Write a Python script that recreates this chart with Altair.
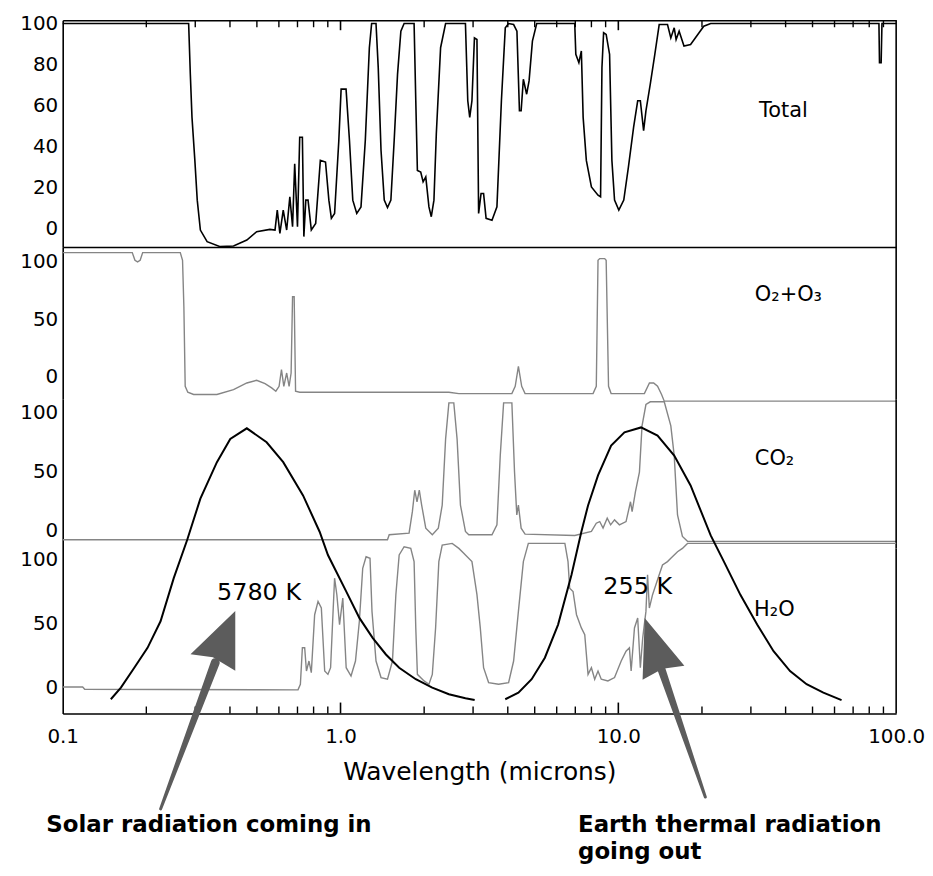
import altair as alt
import pandas as pd

# ---------------- data (wavelength in microns, value in panel axis units)
TOTAL = [(0.1, 100), (0.284, 100), (0.288, 75.2), (0.292, 54.2), (0.299, 33.2), (0.305, 13.8),
         (0.313, -0.8), (0.331, -6.5), (0.369, -8.9), (0.412, -8.6), (0.46, -5.7), (0.499, -1.6),
         (0.557, -0.5), (0.581, -0.8), (0.592, 8.9), (0.605, -2.4), (0.622, 8.9), (0.64, -0.8),
         (0.657, 15.4), (0.672, 0.8), (0.684, 31.6), (0.70, 0.8), (0.713, 44.5), (0.729, 44.5),
         (0.738, -4.0), (0.75, 13.8), (0.764, 13.8), (0.785, -0.8), (0.814, 2.4), (0.846, 33.2),
         (0.883, 32.4), (0.908, 13.8), (0.927, 4.9), (0.952, 7.3), (0.986, 42.9), (1.005, 68),
         (1.047, 68), (1.077, 42.9), (1.107, 13.8), (1.144, 7.3), (1.185, 10.5), (1.228, 42.9),
         (1.27, 88.2), (1.294, 100), (1.342, 100), (1.367, 78.5), (1.399, 38), (1.437, 13.8),
         (1.476, 10.2), (1.518, 13.8), (1.56, 42.9), (1.604, 75.2), (1.649, 96.3), (1.694, 100),
         (1.84, 100), (1.866, 62.3), (1.891, 28.3), (1.944, 27.5), (1.983, 22.7), (2.027, 25.1),
         (2.081, 10.5), (2.122, 5.7), (2.169, 13.8), (2.212, 46.1), (2.292, 88.2), (2.389, 100),
         (2.816, 100), (2.871, 62.3), (2.918, 54.2), (2.972, 62.3), (3.034, 93), (3.098, 92.2),
         (3.141, 7.3), (3.205, 17), (3.273, 17), (3.342, 4.9), (3.509, 4.0), (3.656, 10.5),
         (3.794, 62.3), (3.918, 97.9), (4.027, 100), (4.198, 99.5), (4.315, 96.3), (4.406, 57.4),
         (4.468, 57.4), (4.551, 72.8), (4.677, 65.5), (4.772, 72), (4.906, 91.4), (5.084, 100),
         (6.967, 100), (7.03, 85), (7.21, 80.9), (7.36, 86.6), (7.47, 54.2), (7.67, 33.2),
         (8.0, 20.2), (8.45, 16.2), (8.63, 15.4), (8.73, 78.5), (8.85, 95.5), (9.04, 94.7),
         (9.30, 85), (9.48, 33.2), (9.69, 13.8), (10.04, 8.9), (10.46, 13.8), (10.87, 29.9),
         (11.35, 49.4), (11.74, 62.3), (12.0, 62.3), (12.33, 47.7), (12.57, 57.4), (13.03, 70.4),
         (13.53, 85), (14.03, 99.5), (15.03, 99.5), (15.45, 93), (15.89, 97.9), (16.14, 92.2),
         (16.55, 96.3), (17.23, 89), (18.2, 89.8), (20.3, 98.7), (21.5, 100), (86.7, 100),
         (87.1, 80.9), (88.3, 80.9), (88.9, 100), (100, 100)]

O2O3 = [(0.1, 108.1), (0.178, 108.1), (0.182, 101.4), (0.186, 100), (0.19, 101.4), (0.194, 108.1),
        (0.265, 108.1), (0.27, 101.4), (0.273, 60.9), (0.276, -8.7), (0.282, -13.9), (0.296, -15.9),
        (0.359, -15.9), (0.412, -11.6), (0.46, -5.8), (0.499, -3.5), (0.535, -6.4), (0.565, -10.1),
        (0.585, -13), (0.601, -8.7), (0.613, 5.8), (0.625, -8.7), (0.64, 2.9), (0.653, -8.7),
        (0.664, 2.9), (0.672, 69.6), (0.681, 69.6), (0.689, -13), (0.713, -13.9), (2.455, -13.9),
        (2.666, -15.1), (4.138, -15.1), (4.254, -8.7), (4.368, 8.7), (4.489, -8.7), (4.616, -15.1),
        (8.11, -15.1), (8.33, -8.7), (8.45, 101.4), (8.57, 102.9), (8.93, 102.9), (9.04, 101.4),
        (9.22, -8.7), (9.42, -15.1), (12.41, -15.1), (12.94, -5.8), (13.4, -5.8), (13.84, -8.7),
        (14.31, -15.9), (14.63, -21.7), (100, -21.7)]

CO2 = [(0.1, -8.1), (1.476, -8.1), (1.497, -3.9), (1.765, -2.5), (1.814, 15.7), (1.85, 33.9),
       (1.885, 24.1), (1.921, 33.9), (1.959, 21.3), (2.027, 1.7), (2.14, -3.9), (2.249, 1.7),
       (2.323, 21.3), (2.389, 77.3), (2.455, 108.1), (2.557, 108.1), (2.628, 77.3), (2.702, 21.3),
       (2.816, -1.1), (2.895, -3.9), (3.509, -3.9), (3.656, 4.5), (3.758, 63.3), (3.864, 108.1),
       (4.138, 108.1), (4.23, 49.3), (4.31, 12.9), (4.368, 21.3), (4.468, 1.7), (4.616, -3.4),
       (6.97, -4.5), (8.0, -1.1), (8.33, 5.9), (8.57, 7.3), (8.81, 1.7), (9.12, 10.1), (9.38, 4.5),
       (9.69, 8.7), (10.09, 4.5), (10.66, 7.3), (11.06, 24.1), (11.21, 15.7), (11.52, 32.5),
       (11.91, 49.3), (12.17, 88.5), (12.57, 106.7), (13.03, 109), (14.63, 109), (15.45, 88.5),
       (15.89, 63.3), (16.33, 12.9), (17.01, -5.3), (17.74, -9.5), (100, -9.5)]

H2O = [(0.1, 0.5), (0.118, 0.5), (0.12, -1.3), (0.703, -1.8), (0.717, 2.6), (0.729, 31), (0.743, 31),
       (0.754, 12.9), (0.77, 20.7), (0.785, 11.6), (0.807, 56.8), (0.83, 67.2), (0.853, 62),
       (0.877, 12.9), (0.901, 10.3), (0.921, 15.5), (0.939, 56.8), (0.952, 85.3), (0.97, 72.4),
       (0.992, 49.1), (1.019, 69.8), (1.048, 15.5), (1.091, 9), (1.132, 20.7), (1.169, 51.7),
       (1.202, 93), (1.236, 102), (1.277, 100.8), (1.298, 59.4), (1.342, 20.7), (1.399, 7.8),
       (1.476, 6.5), (1.538, 20.7), (1.582, 72.4), (1.626, 103.4), (1.694, 109.8), (1.79, 108.5),
       (1.84, 98.2), (1.866, 46.5), (1.891, 10.3), (1.999, 5.2), (2.081, 2.6), (2.14, 10.3),
       (2.199, 46.5), (2.259, 98.2), (2.323, 111.1), (2.523, 112.4), (2.666, 108.5), (2.777, 104.7),
       (2.816, 103.4), (2.972, 98.2), (3.098, 72.4), (3.185, 46.5), (3.273, 15.5), (3.412, 3.9),
       (3.706, 2.6), (4.027, 3.9), (4.198, 20.7), (4.368, 59.4), (4.551, 98.2), (4.743, 112.4),
       (6.42, 112.4), (6.59, 98.2), (6.68, 77.5), (6.87, 74.9), (7.07, 56.8), (7.36, 46.5),
       (7.57, 41.3), (7.78, 10.3), (8.0, 15.5), (8.22, 6.5), (8.45, 12.9), (8.68, 6.5), (9.17, 5.2),
       (9.69, 7.8), (10.24, 20.7), (10.66, 28.4), (10.96, 31), (11.12, 12.9), (11.43, 46.5),
       (11.74, 54.3), (12.0, 15.5), (12.24, 38.8), (12.57, 59.4), (12.74, 87.9), (12.93, 62),
       (13.28, 72.4), (13.65, 80.1), (14.03, 87.9), (14.42, 95.6), (15.03, 98.2), (15.45, 100.8),
       (16.33, 105.9), (17.01, 108.5), (17.74, 112.4), (100, 112.4)]

# black-body curves, in H2O-panel axis units
SUN_BB = [(0.149, -9.1), (0.162, 0), (0.181, 15.5), (0.202, 31), (0.225, 51.7), (0.251, 85.3),
          (0.2805, 115), (0.313, 147.3), (0.359, 175.7), (0.401, 193.8), (0.46, 202.1),
          (0.542, 191.2), (0.622, 175.7), (0.733, 149.8), (0.841, 121.5), (0.901, 103.3),
          (0.939, 95.6), (1.048, 75), (1.169, 54.3), (1.305, 38.8), (1.457, 25.8), (1.626, 15.5),
          (1.866, 6.5), (2.139, 0), (2.455, -5.2), (2.816, -8.3), (3.04, -9.7)]
EARTH_BB = [(3.917, -9.1), (4.368, -3.9), (4.875, 6.5), (5.44, 23.3), (6.07, 49.1), (6.78, 87.8),
            (7.36, 121.5), (7.78, 142), (8.45, 165.4), (9.42, 188.6), (10.52, 199), (12.07, 202.8),
            (13.84, 196.4), (15.89, 180.9), (18.2, 157.6), (21.5, 118.6), (23.99, 98.2),
            (27.5, 72.3), (31.6, 49.1), (36.2, 28.4), (41.5, 12.9), (47.6, 2.6), (54.7, -3.9),
            (63.6, -9.8)]

MINOR_TICKS = [0.2, 0.3, 0.4, 0.5, 0.6, 0.7, 0.8, 0.9, 2, 3, 4, 5, 6, 7, 8, 9,
               20, 30, 40, 50, 60, 70, 80, 90]
MAJOR_TICKS = [1, 10]
X_LABELS = [0.1, 1, 10, 100]
Y_TICKS_TOTAL = [0, 20, 40, 60, 80, 100]
Y_TICKS_GAS = [0, 50, 100]

# annotation anchors (wavelength, panel value)
TOTAL_LABEL = [("Total", 32.1, 57.4)]
O2O3_LABEL = [("O\u2082+O\u2083", 31.0, 71.0)]
CO2_LABEL = [("CO\u2082", 31.0, 60.6)]
H2O_LABEL = [("H\u2082O", 30.8, 60.5)]
BB_LABELS = [("5780 K", 0.509, 73.6), ("255 K", 11.74, 78.3)]
CAPTIONS = [("Solar radiation coming in", 0.0873, -107.0),
            ("Earth thermal radiation", 7.16, -107.0),
            ("going out", 7.16, -128.5)]
ARROW_SHAFTS = [("sun", 0.354, 19.4, 9), ("sun", 0.2251, -94.6, 3),
                ("earth", 14.31, 14.0, 8), ("earth", 20.56, -85.3, 3)]
ARROW_TIPS = {"sun": (0.418, 59.7), "earth": (12.44, 54.3)}

# ---------------- styling
FONT = "DejaVu Sans"
GRAY = "#858585"
ARROW = "#5c5c5c"
W = 838
H_TOTAL, H_O, H_C, H_W = 228, 153, 150, 166
TOTAL_DOM = [-9.1, 101.6]
O2O3_DOM = [-20.0, 113.0]
CO2_DOM = [-15.5, 111.2]
H2O_DOM = [-20.2, 108.5]

XSCALE = alt.Scale(type="log", domain=[0.1, 100], nice=False)


def series_df(pairs):
    return pd.DataFrame({"wl": [p[0] for p in pairs], "v": [p[1] for p in pairs],
                         "i": list(range(len(pairs)))})


def text_df(rows):
    return pd.DataFrame({"t": [r[0] for r in rows], "wl": [r[1] for r in rows],
                         "v": [r[2] for r in rows]})


def X(axis):
    return alt.X("wl:Q", scale=XSCALE, axis=axis)


def yaxis(vals):
    return alt.Axis(values=vals, title=None, grid=False, ticks=False, domain=True,
                    domainColor="black", domainWidth=1.6, labelFont=FONT, labelFontSize=20,
                    labelColor="black", labelPadding=5, labelFlush=False, labelOverlap=False)


def Y(dom, vals):
    return alt.Y("v:Q", scale=alt.Scale(domain=dom, nice=False, zero=False), axis=yaxis(vals))


def frame_axis(orient):
    return alt.Axis(orient=orient, labels=False, ticks=False, grid=False, domain=True,
                    domainColor="black", domainWidth=1.6, title=None)


def right_edge(xax, h):
    return alt.Chart(pd.DataFrame({"wl": [100]})).mark_rule(color="black", strokeWidth=1.6).encode(
        x=X(xax), y=alt.value(0), y2=alt.value(h))


def panel_label(rows, xax, dom, vals, size=21):
    return alt.Chart(text_df(rows)).mark_text(
        align="left", baseline="middle", font=FONT, fontSize=size, color="black").encode(
        x=X(xax), y=Y(dom, vals), text="t:N")


# ---------------- Total panel
ax_t = frame_axis("top")
total = alt.layer(
    alt.Chart(series_df(TOTAL)).mark_line(color="black", strokeWidth=1.6, clip=False).encode(
        x=X(ax_t), y=Y(TOTAL_DOM, Y_TICKS_TOTAL), order="i:Q"),
    alt.Chart(pd.DataFrame({"wl": MINOR_TICKS})).mark_rule(color="black", strokeWidth=1.4).encode(
        x=X(ax_t), y=alt.value(0), y2=alt.value(7)),
    alt.Chart(pd.DataFrame({"wl": MAJOR_TICKS})).mark_rule(color="black", strokeWidth=1.6).encode(
        x=X(ax_t), y=alt.value(0), y2=alt.value(10)),
    right_edge(ax_t, H_TOTAL),
    panel_label(TOTAL_LABEL, ax_t, TOTAL_DOM, Y_TICKS_TOTAL),
).properties(width=W, height=H_TOTAL)

# ---------------- O2+O3 panel
ax_o = frame_axis("top")
o2o3 = alt.layer(
    alt.Chart(series_df(O2O3)).mark_line(color=GRAY, strokeWidth=1.4, clip=False).encode(
        x=X(ax_o), y=Y(O2O3_DOM, Y_TICKS_GAS), order="i:Q"),
    right_edge(ax_o, H_O),
    panel_label(O2O3_LABEL, ax_o, O2O3_DOM, Y_TICKS_GAS),
).properties(width=W, height=H_O)

# ---------------- CO2 panel
co2 = alt.layer(
    alt.Chart(series_df(CO2)).mark_line(color=GRAY, strokeWidth=1.4, clip=False).encode(
        x=X(None), y=Y(CO2_DOM, Y_TICKS_GAS), order="i:Q"),
    right_edge(None, H_C),
    panel_label(CO2_LABEL, None, CO2_DOM, Y_TICKS_GAS),
).properties(width=W, height=H_C)

# ---------------- H2O panel (with black bodies and annotations)
ax_w = alt.Axis(orient="bottom", values=X_LABELS, format=".1f", ticks=False, grid=False,
                domain=True, domainColor="black", domainWidth=1.6, labelFont=FONT,
                labelFontSize=20, labelColor="black", labelPadding=13, labelFlush=False,
                labelOverlap=False, title="Wavelength (microns)", titleFont=FONT,
                titleFontSize=25, titleFontWeight="normal", titleColor="black", titlePadding=13)

bb = pd.concat([series_df(SUN_BB).assign(s="sun"), series_df(EARTH_BB).assign(s="earth")])
shafts = pd.DataFrame({"s": [a[0] for a in ARROW_SHAFTS], "wl": [a[1] for a in ARROW_SHAFTS],
                       "v": [a[2] for a in ARROW_SHAFTS], "w": [a[3] for a in ARROW_SHAFTS],
                       "i": [0, 1, 0, 1]})

SUN_HEAD = "M0,0L0,2L-0.75,1.55L-1.5,1.45Z"
EARTH_HEAD = "M0,0L1.33,1.6L0.6,1.7L-0.07,2.07Z"


def head(key, shape):
    wl, v = ARROW_TIPS[key]
    return alt.Chart(pd.DataFrame({"wl": [wl], "v": [v]})).mark_point(
        shape=shape, size=3600, filled=True, color=ARROW, opacity=1, strokeWidth=0, clip=False).encode(
        x=X(ax_w), y=Y(H2O_DOM, Y_TICKS_GAS))


h2o = alt.layer(
    alt.Chart(series_df(H2O)).mark_line(color=GRAY, strokeWidth=1.4, clip=False).encode(
        x=X(ax_w), y=Y(H2O_DOM, Y_TICKS_GAS), order="i:Q"),
    alt.Chart(pd.DataFrame({"wl": MINOR_TICKS})).mark_rule(color="black", strokeWidth=1.4).encode(
        x=X(ax_w), y=alt.value(H_W), y2=alt.value(H_W - 7)),
    alt.Chart(pd.DataFrame({"wl": MAJOR_TICKS})).mark_rule(color="black", strokeWidth=1.6).encode(
        x=X(ax_w), y=alt.value(H_W), y2=alt.value(H_W - 11)),
    right_edge(ax_w, H_W),
    alt.Chart(bb).mark_line(color="black", strokeWidth=2, clip=False).encode(
        x=X(ax_w), y=Y(H2O_DOM, Y_TICKS_GAS), detail="s:N", order="i:Q"),
    panel_label(H2O_LABEL, ax_w, H2O_DOM, Y_TICKS_GAS),
    alt.Chart(text_df(BB_LABELS)).mark_text(
        align="center", baseline="middle", font=FONT, fontSize=24, color="black").encode(
        x=X(ax_w), y=Y(H2O_DOM, Y_TICKS_GAS), text="t:N"),
    alt.Chart(shafts).mark_trail(color=ARROW, clip=False).encode(
        x=X(ax_w), y=Y(H2O_DOM, Y_TICKS_GAS), size=alt.Size("w:Q", scale=None, legend=None),
        detail="s:N", order="i:Q"),
    head("sun", SUN_HEAD),
    head("earth", EARTH_HEAD),
    alt.Chart(text_df(CAPTIONS)).mark_text(
        align="left", baseline="middle", font=FONT, fontSize=23, fontWeight="bold",
        color="black").encode(x=X(ax_w), y=Y(H2O_DOM, Y_TICKS_GAS), text="t:N"),
).properties(width=W, height=H_W)

chart = alt.vconcat(total, o2o3, co2, h2o, spacing=0, bounds="flush").properties(
    padding={"left": 11, "top": 3, "right": 0, "bottom": 0}, background="white"
).configure_view(stroke=None)

chart.save("out.html", embed_options={"renderer": "svg", "actions": False})
